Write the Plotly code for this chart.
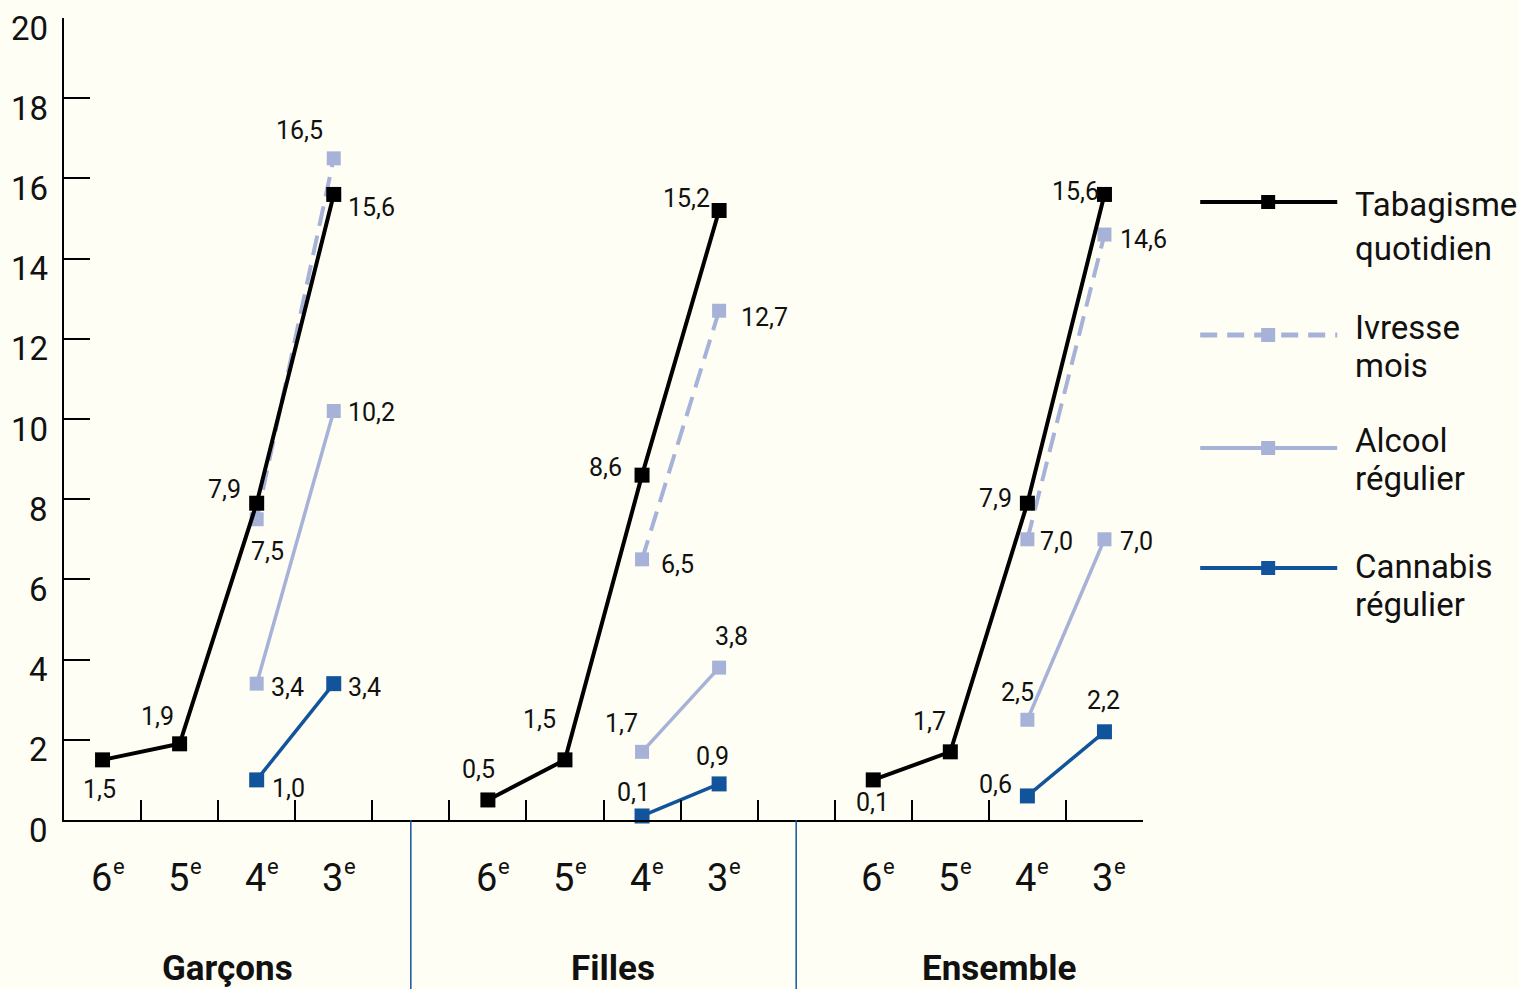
import plotly.graph_objects as go

# ---------------- data ----------------
groups = ["Garçons", "Filles", "Ensemble"]
grades = ["6", "5", "4", "3"]
grade_suffix = "e"
y_ticks = [0, 2, 4, 6, 8, 10, 12, 14, 16, 18, 20]

tabac = [[1.5, 1.9, 7.9, 15.6], [0.5, 1.5, 8.6, 15.2], [1.0, 1.7, 7.9, 15.6]]
tabac_lbl = [["1,5", "1,9", "7,9", "15,6"], ["0,5", "1,5", "8,6", "15,2"], ["0,1", "1,7", "7,9", "15,6"]]

ivresse = [[None, None, 7.5, 16.5], [None, None, 6.5, 12.7], [None, None, 7.0, 14.6]]
ivresse_lbl = [[None, None, "7,5", "16,5"], [None, None, "6,5", "12,7"], [None, None, "7,0", "14,6"]]

alcool = [[None, None, 3.4, 10.2], [None, None, 1.7, 3.8], [None, None, 2.5, 7.0]]
alcool_lbl = [[None, None, "3,4", "10,2"], [None, None, "1,7", "3,8"], [None, None, "2,5", "7,0"]]

cannabis = [[None, None, 1.0, 3.4], [None, None, 0.1, 0.9], [None, None, 0.6, 2.2]]
cannabis_lbl = [[None, None, "1,0", "3,4"], [None, None, "0,1", "0,9"], [None, None, "0,6", "2,2"]]

legend_lines = [["Tabagisme", "quotidien"], ["Ivresse", "mois"], ["Alcool", "régulier"], ["Cannabis", "régulier"]]

# ---------------- style ----------------
BG = "#FFFEF4"
BLACK = "#000000"
TXT = "#111111"
LIGHT = "#A7B2D9"
DARK = "#12549C"
FONT = "Roboto, Open Sans, sans-serif"
DASH = "20px,10px"

PLOT_TOP, PLOT_BOTTOM = 18, 820  # pixel rows of the plot area


def py(pix):
    """pixel row -> paper y (layout helper)"""
    return (PLOT_BOTTOM - pix) / (PLOT_BOTTOM - PLOT_TOP)


# label pixel offsets (xshift, yshift) per group / point
off_tabac = [[(-3, -30), (-22, 27), (-32, 14), (38, -13)],
             [(-9, 30), (-25, 40), (-37, 8), (-33, 12)],
             [(-1, -23), (-21, 30), (-32, 5), (-29, 3)]]
off_ivresse = [[None, None, (11, -32), (-34, 28)],
               [None, None, (35, -5), (45, -7)],
               [None, None, (29, -2), (39, -5)]]
off_alcool = [[None, None, (31, -4), (38, -2)],
              [None, None, (-21, 28), (12, 31)],
              [None, None, (-10, 27), (32, -2)]]
off_cannabis = [[None, None, (32, -9), (31, -4)],
                [None, None, (-9, 23), (-7, 27)],
                [None, None, (-32, 11), (-1, 31)]]

GAP = 5  # slots per group (4 grades + 1 spacer)


def xpos(g, i):
    return g * GAP + i


def build_xy(series):
    xs, ys = [], []
    for g, vals in enumerate(series):
        for i, v in enumerate(vals):
            if v is not None:
                xs.append(xpos(g, i))
                ys.append(v)
        xs.append(None)
        ys.append(None)
    return xs, ys


fig = go.Figure()

series_specs = [
    (ivresse, ivresse_lbl, off_ivresse, LIGHT, DASH, 4, 14),
    (alcool, alcool_lbl, off_alcool, LIGHT, "solid", 3.5, 14),
    (cannabis, cannabis_lbl, off_cannabis, DARK, "solid", 3.5, 15),
    (tabac, tabac_lbl, off_tabac, BLACK, "solid", 4, 15),
]

annotations = []
for vals, lbls, offs, color, dash, w, ms in series_specs:
    xs, ys = build_xy(vals)
    fig.add_trace(go.Scatter(
        x=xs, y=ys, mode="lines+markers",
        line=dict(color=color, width=w, dash=dash),
        marker=dict(symbol="square", size=ms, color=color),
        cliponaxis=False, showlegend=False, hoverinfo="skip",
    ))
    for g in range(len(groups)):
        for i in range(len(grades)):
            v = vals[g][i]
            if v is None:
                continue
            dx, dy = offs[g][i]
            annotations.append(dict(
                x=xpos(g, i), y=v, xref="x", yref="y", text=lbls[g][i],
                showarrow=False, xshift=dx, yshift=dy,
                font=dict(family=FONT, size=25, color=TXT),
            ))

# y tick labels
for t in y_ticks:
    annotations.append(dict(
        x=0, y=t, xref="paper", yref="y", text=str(t), showarrow=False,
        xanchor="right", yanchor="middle", xshift=-14, yshift=-10,
        font=dict(family=FONT, size=33, color=TXT),
    ))

# category labels (digit + superscript e) and group labels
for g, name in enumerate(groups):
    for i, gr in enumerate(grades):
        annotations.append(dict(
            x=xpos(g, i), y=py(878), xref="x", yref="paper", text=gr,
            showarrow=False, xanchor="right", yanchor="middle", xshift=11,
            font=dict(family=FONT, size=38, color=TXT),
        ))
        annotations.append(dict(
            x=xpos(g, i), y=py(866), xref="x", yref="paper", text=grade_suffix,
            showarrow=False, xanchor="left", yanchor="middle", xshift=8,
            font=dict(family=FONT, size=22, color=TXT),
        ))
    annotations.append(dict(
        x=xpos(g, 1.6), y=py(968), xref="x", yref="paper", text="<b>" + name + "</b>",
        showarrow=False, yanchor="middle", xshift=2,
        font=dict(family=FONT, size=35, color=TXT),
    ))

# custom legend
shapes = []
leg_line_y = [202, 335, 448, 568]
leg_text_y = [(205, 248), (327, 365), (440, 478), (566, 604)]
leg_style = [(BLACK, "solid", 4), (LIGHT, "17px,10px", 5), (LIGHT, "solid", 4), (DARK, "solid", 4)]
for lines, ly, ty, (c, d, w) in zip(legend_lines, leg_line_y, leg_text_y, leg_style):
    yy = py(ly)
    shapes.append(dict(type="line", xref="paper", yref="paper", x0=1.053, x1=1.180, y0=yy, y1=yy,
                       line=dict(color=c, width=w, dash=d)))
    shapes.append(dict(type="rect", xref="paper", yref="paper", xsizemode="pixel", ysizemode="pixel",
                       xanchor=1.116, yanchor=yy, x0=-7, x1=7, y0=-7, y1=7,
                       fillcolor=c, line=dict(width=0)))
    for txt, tyy in zip(lines, ty):
        annotations.append(dict(
            x=1.196, y=py(tyy), xref="paper", yref="paper", text=txt, showarrow=False,
            xanchor="left", yanchor="middle", align="left", borderpad=0,
            font=dict(family=FONT, size=33, color=TXT),
        ))

# group separators below the axis
for g in range(1, len(groups)):
    shapes.append(dict(type="line", xref="x", yref="paper", x0=g * GAP - 1, x1=g * GAP - 1,
                       y0=0, y1=-0.215, line=dict(color=DARK, width=1.5)))

fig.update_layout(
    template="none",
    width=1519, height=989,
    margin=dict(l=64, r=376, t=PLOT_TOP, b=989 - PLOT_BOTTOM, autoexpand=False),
    paper_bgcolor=BG, plot_bgcolor=BG,
    annotations=annotations, shapes=shapes,
    font=dict(family=FONT, color=TXT),
    showlegend=False,
)
fig.update_xaxes(
    range=[-0.5, 13.5], showgrid=False, zeroline=False, automargin=False,
    showline=True, linecolor=BLACK, linewidth=2,
    tickvals=[k + 0.5 for k in range(14)], showticklabels=False,
    ticks="inside", ticklen=20, tickwidth=2, tickcolor=BLACK,
)
fig.update_yaxes(
    range=[0, 20], showgrid=False, zeroline=False, automargin=False,
    showline=True, linecolor=BLACK, linewidth=2,
    tickvals=y_ticks, showticklabels=False,
    ticks="inside", ticklen=26, tickwidth=2, tickcolor=BLACK,
)

fig.write_html("out.html", config={"displayModeBar": False},
               post_script="document.body.style.margin='0';")
